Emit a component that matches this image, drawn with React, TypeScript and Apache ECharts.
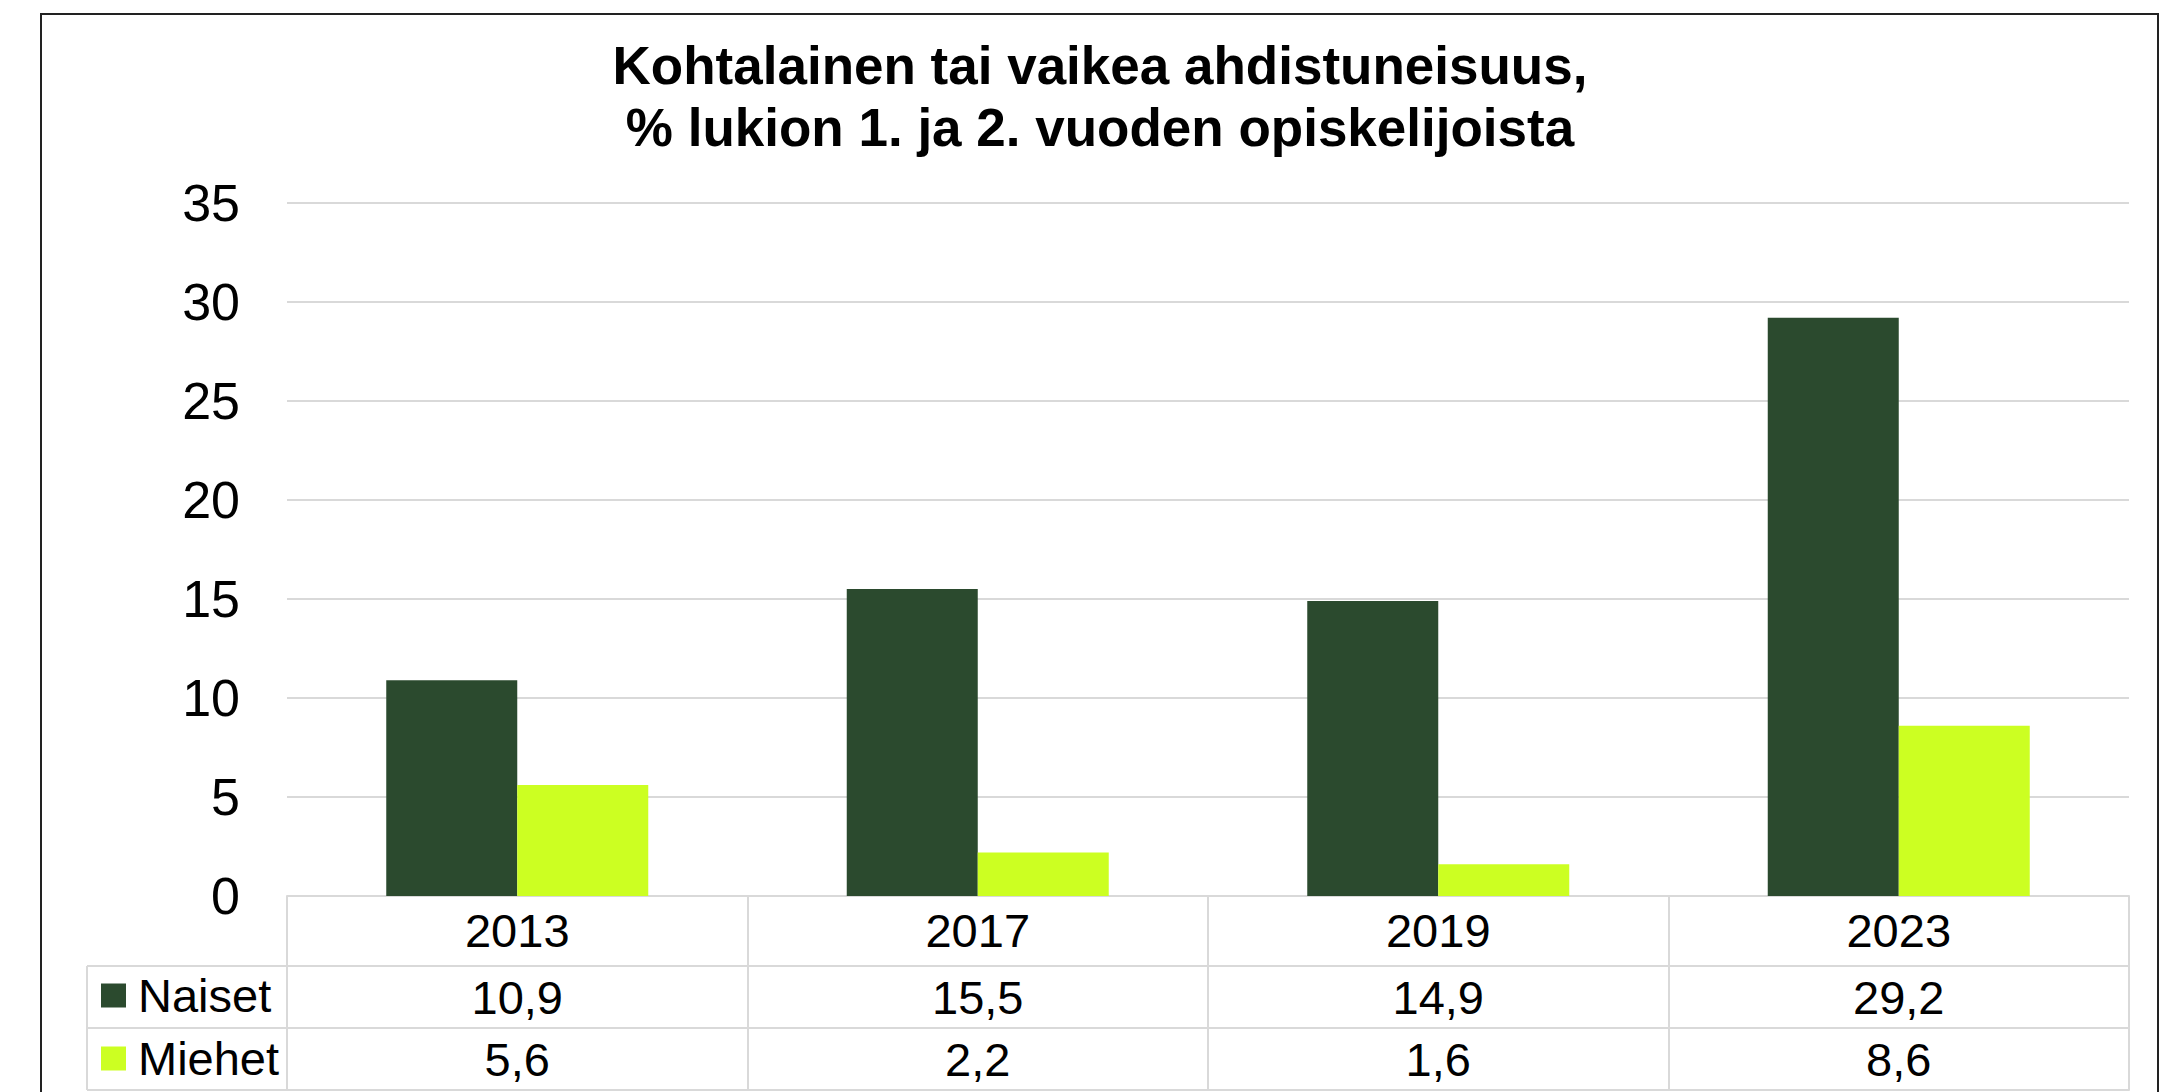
import React, { useEffect, useRef } from "react";
import * as echarts from "echarts";

const titleLines = [
  "Kohtalainen tai vaikea ahdistuneisuus,",
  "% lukion 1. ja 2. vuoden opiskelijoista",
];
const years = ["2013", "2017", "2019", "2023"];
const seriesNames = ["Naiset", "Miehet"];
const naiset = [10.9, 15.5, 14.9, 29.2];
const miehet = [5.6, 2.2, 1.6, 8.6];
const yMin = 0;
const yMax = 35;
const yInterval = 5;

const FONT = "'Liberation Sans', Arial, Helvetica, sans-serif";
const GRID_GRAY = "#d9d9d9";
const DARK = "#2B4A2E";
const LIME = "#CCFF22";

const fmt = (v: number) => v.toFixed(1).replace(".", ",");

export default function App() {
  const ref = useRef<HTMLDivElement>(null);

  useEffect(() => {
    if (!ref.current) return;
    const chart = echarts.init(ref.current, undefined, { renderer: "svg" });

    const gridLeft = 287;
    const gridRight = 2129;
    const gridTop = 203;
    const gridBottom = 896;
    const rowH = [70, 62, 62];
    const r1 = gridBottom + rowH[0];
    const r2 = r1 + rowH[1];
    const r3 = r2 + rowH[2];
    const legendLeft = 87;

    const tableAxisBase = {
      type: "category",
      position: "bottom",
      data: years,
      boundaryGap: true,
      axisTick: { show: false },
      splitLine: { show: false },
      axisLine: { show: true, lineStyle: { color: GRID_GRAY, width: 2 } },
    };

    const option: any = {
      animation: false,
      backgroundColor: "#ffffff",
      grid: {
        left: gridLeft,
        right: 2166 - gridRight,
        top: gridTop,
        bottom: 1092 - gridBottom,
        containLabel: false,
      },
      legend: {
        orient: "vertical",
        left: 101,
        top: 972,
        padding: 0,
        itemWidth: 25,
        itemHeight: 24,
        itemGap: 16,
        icon: "rect",
        selectedMode: false,
        data: seriesNames,
        textStyle: {
          fontFamily: FONT,
          fontSize: 47,
          lineHeight: 47,
          color: "#000",
          padding: [0, 0, 0, 7],
        },
      },
      xAxis: [
        {
          ...tableAxisBase,
          axisTick: {
            show: true,
            interval: 0,
            length: r3 - gridBottom,
            lineStyle: { color: GRID_GRAY, width: 2 },
          },
          axisLabel: {
            interval: 0,
            margin: 34,
            verticalAlign: "middle",
            fontFamily: FONT,
            fontSize: 47,
            color: "#000",
          },
        },
        {
          ...tableAxisBase,
          offset: r1 - gridBottom,
          data: naiset.map(fmt),
          axisLabel: {
            interval: 0,
            margin: 31,
            verticalAlign: "middle",
            fontFamily: FONT,
            fontSize: 47,
            color: "#000",
          },
        },
        {
          ...tableAxisBase,
          offset: r2 - gridBottom,
          data: miehet.map(fmt),
          axisLabel: {
            interval: 0,
            margin: 31,
            verticalAlign: "middle",
            fontFamily: FONT,
            fontSize: 47,
            color: "#000",
          },
        },
        {
          ...tableAxisBase,
          offset: r3 - gridBottom,
          axisLabel: { show: false },
        },
      ],
      yAxis: {
        type: "value",
        min: yMin,
        max: yMax,
        interval: yInterval,
        axisLine: { show: false },
        axisTick: { show: false },
        axisLabel: {
          margin: 47,
          fontFamily: FONT,
          fontSize: 52,
          color: "#000",
        },
        splitLine: { show: true, lineStyle: { color: GRID_GRAY, width: 2 } },
      },
      series: [
        {
          name: seriesNames[0],
          type: "bar",
          data: naiset,
          barWidth: 131,
          barGap: "0%",
          itemStyle: { color: DARK },
        },
        {
          name: seriesNames[1],
          type: "bar",
          data: miehet,
          barWidth: 131,
          barGap: "0%",
          itemStyle: { color: LIME },
        },
      ],
      graphic: [
        {
          type: "rect",
          shape: { x: 41, y: 14, width: 2117, height: 1200 },
          style: { fill: "none", stroke: "#222", lineWidth: 2 },
          silent: true,
          z: 100,
        },
        {
          type: "text",
          x: 1100,
          y: 96,
          style: {
            text: titleLines.join("\n"),
            fontFamily: FONT,
            fontWeight: "bold",
            fontSize: 53,
            lineHeight: 62,
            fill: "#000",
            textAlign: "center",
            textVerticalAlign: "middle",
          },
        },
        {
          type: "line",
          shape: { x1: legendLeft, y1: r1, x2: gridLeft, y2: r1 },
          style: { stroke: GRID_GRAY, lineWidth: 2 },
        },
        {
          type: "line",
          shape: { x1: legendLeft, y1: r2, x2: gridLeft, y2: r2 },
          style: { stroke: GRID_GRAY, lineWidth: 2 },
        },
        {
          type: "line",
          shape: { x1: legendLeft, y1: r3, x2: gridLeft, y2: r3 },
          style: { stroke: GRID_GRAY, lineWidth: 2 },
        },
        {
          type: "line",
          shape: { x1: legendLeft, y1: r1, x2: legendLeft, y2: r3 },
          style: { stroke: GRID_GRAY, lineWidth: 2 },
        },
      ],
    };

    chart.setOption(option);
    return () => chart.dispose();
  }, []);

  return (
    <div
      ref={ref}
      style={{ position: "fixed", left: 0, top: 0, width: 2166, height: 1092 }}
    />
  );
}
